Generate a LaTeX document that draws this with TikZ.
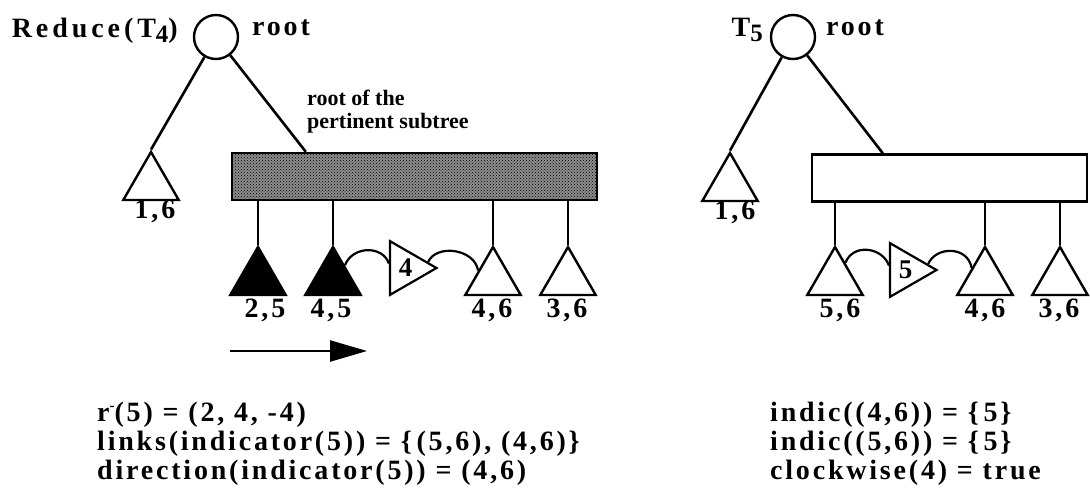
\documentclass[tikz,border=0pt]{standalone}
\usepackage{fontspec}
\setmainfont{Liberation Serif}
\newfontfamily\figfont[LetterSpace=10]{Liberation Serif}
\newfontfamily\widefont[LetterSpace=14]{Liberation Serif}
\usetikzlibrary{shapes.geometric,arrows.meta,patterns,calc}
\begin{document}
\begin{tikzpicture}[x=1pt,y=-1pt,
  lab/.style={font=\figfont\bfseries\fontsize{28}{29}\selectfont, inner sep=0pt},
  titlelab/.style={font=\widefont\bfseries\fontsize{28}{29}\selectfont, inner sep=0pt},
  smalllab/.style={font=\bfseries\fontsize{22}{23}\selectfont, inner sep=0pt, align=left},
  edge/.style={line width=2.6pt},
  arcline/.style={line width=2.2pt},
  rootc/.style={circle, draw, line width=2.4pt, minimum size=44pt, inner sep=0pt},
  subtri/.style={regular polygon, regular polygon sides=3, draw, line width=2.4pt, minimum size=64pt, inner sep=0pt},
  subfull/.style={subtri, fill=black},
  indtri/.style={regular polygon, regular polygon sides=3, shape border rotate=-90, draw, line width=2.2pt, minimum size=62pt, inner sep=0pt, font=\bfseries\fontsize{27}{28}\selectfont},
  bar/.style={draw, line width=2.4pt, minimum height=47pt, inner sep=0pt},
  shadedbar/.style={bar, fill=black!45, postaction={pattern=crosshatch dots, pattern color=black}},
  plainbar/.style={bar, fill=white}
]
\useasboundingbox (0,0) rectangle (1090,495);

% ---------- left tree ----------
\node[rootc] (rootL) at (216,37) {};
\node[titlelab, anchor=base east] (redL) at (178,38) {Reduce(T\raisebox{-5pt}{\fontsize{25}{25}\selectfont 4})};
\node[lab, anchor=base west] (rootLlab) at (252,36) {root};
\node[subtri] (t16L) at (151,184) {};
\node[lab, anchor=base] (l16L) at (155,218) {1,6};
\node[shadedbar, minimum width=365pt] (rectL) at (414.5,176.5) {};
\node[smalllab, anchor=north west] (pert) at (307,90) {root of the\\pertinent subtree};

\node[subfull] (t25) at (258,279) {};
\node[subfull] (t45) at (333,279) {};
\node[subtri] (t46L) at (493,279) {};
\node[subtri] (t36L) at (568,279) {};
\node[lab, anchor=base] (l25) at (265,317) {2,5};
\node[lab, anchor=base] (l45) at (331,317) {4,5};
\node[lab, anchor=base] (l46L) at (492,317) {4,6};
\node[lab, anchor=base] (l36L) at (567,317) {3,6};
\node[indtri] (indL) at (405.5,268) {4};

\draw[edge] (rootL) -- (t16L.corner 1);
\draw[edge] (rootL) -- ([xshift=75pt]rectL.north west);
\foreach \tn in {t25,t45,t46L,t36L}
  \draw[edge] (\tn.corner 1) -- (\tn.corner 1 |- rectL.south);
\draw[arcline] ($(t45.corner 1)!0.4!(t45.corner 3)$) .. controls +(8,-20) and +(-6,-18) .. (indL.165);
\draw[arcline] (indL.15) .. controls +(8,-18) and +(-4,-22) .. ($(t46L.corner 1)!0.5!(t46L.corner 2)$);

\coordinate (arrS) at (230,351);
\coordinate (arrE) at (367,351);
\draw[line width=2.4pt, -{Triangle[length=37pt,width=21pt]}] (arrS) -- (arrE);

% ---------- right tree ----------
\node[rootc] (rootR) at (793,37) {};
\node[titlelab, anchor=base east] (t5lab) at (763,37) {T\raisebox{-5pt}{\fontsize{25}{25}\selectfont 5}};
\node[lab, anchor=base west] (rootRlab) at (826,36) {root};
\node[subtri] (t16R) at (730,185) {};
\node[lab, anchor=base] (l16R) at (735,219) {1,6};
\node[plainbar, minimum width=275pt] (rectR) at (949.5,178) {};

\node[subtri] (t56) at (835,279) {};
\node[subtri] (t46R) at (985,279) {};
\node[subtri] (t36R) at (1060,279) {};
\node[lab, anchor=base] (l56) at (840,317) {5,6};
\node[lab, anchor=base] (l46R) at (985,317) {4,6};
\node[lab, anchor=base] (l36R) at (1059,317) {3,6};
\node[indtri] (indR) at (905.5,270) {5};

\draw[edge] (rootR) -- (t16R.corner 1);
\draw[edge] (rootR) -- ([xshift=72pt]rectR.north west);
\foreach \tn in {t56,t46R,t36R}
  \draw[edge] (\tn.corner 1) -- (\tn.corner 1 |- rectR.south);
\draw[arcline] ($(t56.corner 1)!0.35!(t56.corner 3)$) .. controls +(8,-20) and +(-6,-18) .. (indR.165);
\draw[arcline] (indR.15) .. controls +(8,-18) and +(-4,-22) .. ($(t46R.corner 1)!0.45!(t46R.corner 2)$);

% ---------- bottom text ----------
\node[lab, anchor=base west] (b1) at (97,421) {r\raisebox{11pt}{\fontsize{15}{15}\selectfont -}(5) = (2, 4, -4)};
\node[lab, anchor=base west] (b2) at (97,450) {links(indicator(5)) = \{\,(5,6), (4,6)\}};
\node[lab, anchor=base west] (b3) at (97,479) {direction(indicator(5)) = (4,6)};
\node[lab, anchor=base west] (c1) at (770,421) {indic((4,6)) = \{\,5\}};
\node[lab, anchor=base west] (c2) at (770,450) {indic((5,6)) = \{\,5\}};
\node[lab, anchor=base west] (c3) at (770,479) {clockwise(4) = true};
\end{tikzpicture}
\end{document}
